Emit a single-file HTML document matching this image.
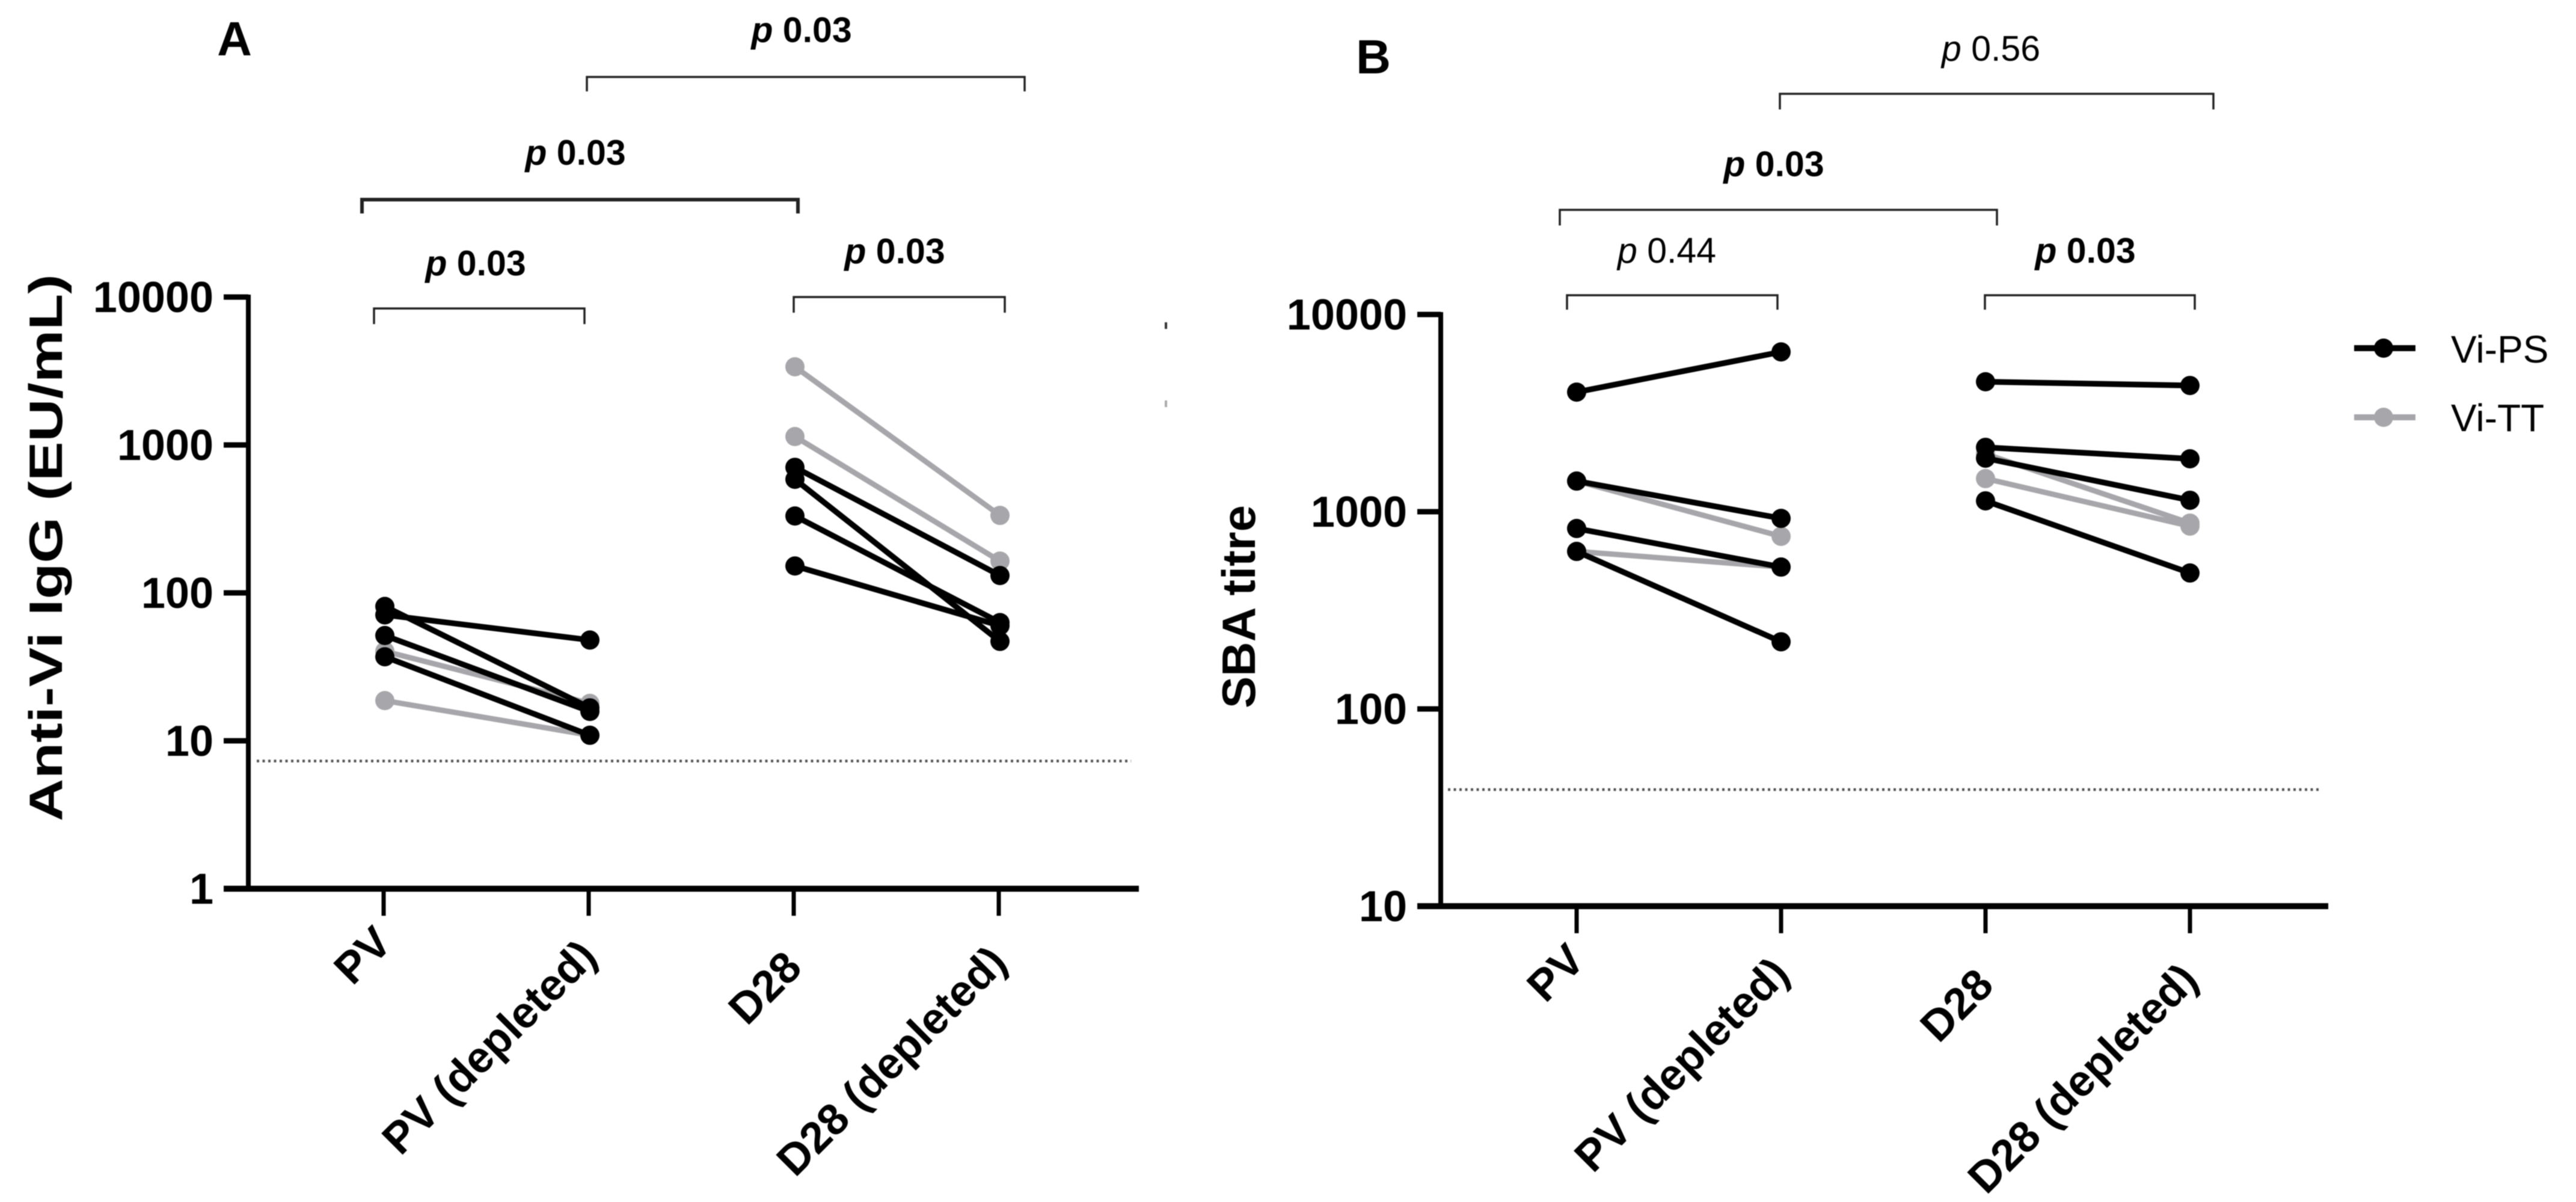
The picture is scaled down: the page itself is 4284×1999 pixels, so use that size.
<!DOCTYPE html>
<html lang="en">
<head>
<meta charset="utf-8">
<title>Anti-Vi IgG and SBA titre</title>
<style>
html,body{margin:0;padding:0;background:#fff;}
svg{display:block;filter:blur(0.8px);}
text{font-family:"Liberation Sans",sans-serif;fill:#000;}
.br{fill:none;stroke:#222;stroke-width:3.5;}
.pv{font-size:59px;}
.b{font-weight:bold;}
.i{font-style:italic;}
</style>
</head>
<body>
<svg id="figure" xmlns="http://www.w3.org/2000/svg" width="4284" height="1999" viewBox="0 0 4284 1999">
<rect width="4284" height="1999" fill="#fff"/>
<text x="390" y="92" font-size="80" font-weight="bold" text-anchor="middle">A</text>
<text x="2284" y="122" font-size="80" font-weight="bold" text-anchor="middle">B</text>

<g>
<path class="br" d="M976 152V128H1704V152"/>
<text class="pv b" x="1333" y="70" text-anchor="middle"><tspan class="i">p</tspan> 0.03</text>
<path class="br" d="M602 355V332H1327V355" style="stroke-width:6"/>
<text class="pv b" x="957" y="274" text-anchor="middle"><tspan class="i">p</tspan> 0.03</text>
<path class="br" d="M622 539V513H972V539"/>
<text class="pv b" x="791" y="458" text-anchor="middle"><tspan class="i">p</tspan> 0.03</text>
<path class="br" d="M1320 520V494H1671V520"/>
<text class="pv b" x="1488" y="438" text-anchor="middle"><tspan class="i">p</tspan> 0.03</text>
</g>

<g>
<path class="br" d="M2960 182V156H3681V182"/>
<text class="pv" x="3311" y="101" text-anchor="middle"><tspan class="i">p</tspan> 0.56</text>
<path class="br" d="M2594 375V349H3321V375"/>
<text class="pv b" x="2950" y="293" text-anchor="middle"><tspan class="i">p</tspan> 0.03</text>
<path class="br" d="M2606 515V491H2956V515"/>
<text class="pv" x="2772" y="437" text-anchor="middle"><tspan class="i">p</tspan> 0.44</text>
<path class="br" d="M3301 515V491H3650V515"/>
<text class="pv b" x="3468" y="437" text-anchor="middle"><tspan class="i">p</tspan> 0.03</text>
</g>

<rect x="1937" y="536" width="4" height="11" fill="#333"/>
<rect x="1937" y="666" width="4" height="11" fill="#aaa"/>

<g>
<g>
<line x1="3915" x2="4017" y1="579" y2="579" stroke="#000" stroke-width="10"/>
<circle cx="3964" cy="579" r="16" fill="#000"/>
<text x="4076" y="603" font-size="64">Vi-PS</text>
</g>
<g>
<line x1="3915" x2="4017" y1="694" y2="694" stroke="#a7a7ab" stroke-width="10"/>
<circle cx="3964" cy="694" r="16" fill="#a7a7ab"/>
<text x="4076" y="717" font-size="64">Vi-TT</text>
</g>
</g>
</svg>

<script>
const categories = ['PV', 'PV (depleted)', 'D28', 'D28 (depleted)'];

const ticksA = [1, 10, 100, 1000, 10000];
const ticksB = [10, 100, 1000, 10000];
const thresholdA = [7.3];
const thresholdB = [39];

// Panel A: paired subjects, Vi-PS
const aPsPV = [71, 81, 51.5, 37];
const aPsPVDepleted = [48, 16.7, 15.8, 10.9];
const aPsD28 = [706, 586, 331, 152];
const aPsD28Depleted = [131, 47, 63, 60];
// Panel A: paired subjects, Vi-TT
const aTtPV = [40.3, 18.7];
const aTtPVDepleted = [17.9, 10.9];
const aTtD28 = [3377, 1140];
const aTtD28Depleted = [334, 164];

// Panel B: paired subjects, Vi-PS
const bPsPV = [4040, 1430, 822, 629];
const bPsPVDepleted = [6460, 925, 524, 219];
const bPsD28 = [4560, 2120, 1868, 1135];
const bPsD28Depleted = [4365, 1855, 1143, 489];
// Panel B: paired subjects, Vi-TT
const bTtPV = [1430, 629];
const bTtPVDepleted = [750, 524];
const bTtD28 = [1963, 1472];
const bTtD28Depleted = [875, 845];

const NS = 'http://www.w3.org/2000/svg';
const svg = document.getElementById('figure');

function make(tag, attrs, parent) {
  const el = document.createElementNS(NS, tag);
  for (const k in attrs) el.setAttribute(k, attrs[k]);
  parent.appendChild(el);
  return el;
}

function drawPanel(cfg) {
  const g = make('g', {}, svg);
  
  

  const y = v => cfg.y0 - cfg.decade * (Math.log10(v) - Math.log10(cfg.ticks[0]));
  const x = i => cfg.x0 + cfg.dx * i;
  const topTick = cfg.ticks[cfg.ticks.length - 1];

  // threshold
  const dotted = make('line', {x1: cfg.dotX1, x2: cfg.dotX2, y1: y(cfg.threshold[0]), y2: y(cfg.threshold[0]), stroke: '#555', 'stroke-width': 4.5, 'stroke-dasharray': '4 5.5'}, g);
  
  

  // axes
  const yAxis = make('line', {x1: cfg.axisX, x2: cfg.axisX, y1: y(topTick) - 4, y2: cfg.y0, stroke: '#000', 'stroke-width': 8}, g);
  
  
  const xAxis = make('line', {x1: cfg.tickX1, x2: cfg.axisEnd, y1: cfg.y0, y2: cfg.y0, stroke: '#000', 'stroke-width': 10}, g);
  
  

  cfg.ticks.forEach((t, i) => {
    if (i > 0) {
      const tk = make('line', {x1: cfg.tickX1, x2: cfg.axisX, y1: y(t), y2: y(t), stroke: '#000', 'stroke-width': 9}, g);
      
      
    }
    const lb = make('text', {x: cfg.tickX1 - 17, y: y(t) + 25, 'text-anchor': 'end', 'font-size': 72, 'font-weight': 'bold'}, g);
    
    
    lb.textContent = String(t);
  });

  const labelDrop = [-10, 12, 31, 22];
  categories.forEach((c, i) => {
    const tx = x(i) + cfg.tickShift;
    const tk = make('line', {x1: tx, x2: tx, y1: cfg.y0, y2: cfg.y0 + 45, stroke: '#000', 'stroke-width': 7}, g);
    
    
    const ax = tx + 17;
    const ay = cfg.y0 + 104 + labelDrop[i];
    const lb = make('text', {x: ax, y: ay, 'text-anchor': 'end', 'font-size': 73, 'font-weight': 'bold', transform: 'rotate(-45 ' + ax + ' ' + ay + ')'}, g);
    
    
    lb.textContent = c;
  });

  // y title
  const tt = make('text', {
    x: cfg.titleX, y: cfg.titleY, 'text-anchor': 'middle', 'font-size': cfg.titleSize, 'font-weight': 'bold',
    textLength: cfg.titleLen, lengthAdjust: 'spacingAndGlyphs',
    transform: 'rotate(-90 ' + cfg.titleX + ' ' + cfg.titleY + ')'
  }, g);
  
  
  tt.textContent = cfg.title;

  // series: Vi-TT drawn first so Vi-PS sits on top
  function series(name, colour, lw, columns) {
    const sg = make('g', {}, g);
    
    
    columns.forEach((col, c) => {
      if (c % 2 !== 0) return;
      const next = columns[c + 1];
      col.forEach((v, s) => {
        const ln = make('line', {x1: x(c), y1: y(v), x2: x(c + 1), y2: y(next[s]), stroke: colour, 'stroke-width': lw}, sg);
        
        
      });
    });
    columns.forEach((col, c) => {
      col.forEach(v => {
        const pt = make('circle', {cx: x(c), cy: y(v), r: 16, fill: colour}, sg);
        
        
      });
    });
  }
  series('vi-tt', '#a7a7ab', 9, cfg.tt);
  series('vi-ps', '#000', 9.5, cfg.ps);
}

drawPanel({
  id: 'panel-a', ticks: ticksA, threshold: thresholdA,
  y0: 1478, decade: 246, x0: 640, dx: 341, tickShift: -2,
  axisX: 413, tickX1: 372, axisEnd: 1894, dotX1: 427, dotX2: 1881,
  title: 'Anti-Vi IgG (EU/mL)', titleX: 103, titleY: 911, titleSize: 78, titleLen: 910,
  ps: [aPsPV, aPsPVDepleted, aPsD28, aPsD28Depleted],
  tt: [aTtPV, aTtPVDepleted, aTtD28, aTtD28Depleted]
});

drawPanel({
  id: 'panel-b', ticks: ticksB, threshold: thresholdB,
  y0: 1507, decade: 328, x0: 2622, dx: 340, tickShift: 0,
  axisX: 2396, tickX1: 2357, axisEnd: 3872, dotX1: 2408, dotX2: 3857,
  title: 'SBA titre', titleX: 2087, titleY: 1009, titleSize: 78, titleLen: 338,
  ps: [bPsPV, bPsPVDepleted, bPsD28, bPsD28Depleted],
  tt: [bTtPV, bTtPVDepleted, bTtD28, bTtD28Depleted]
});
</script>
</body>
</html>
